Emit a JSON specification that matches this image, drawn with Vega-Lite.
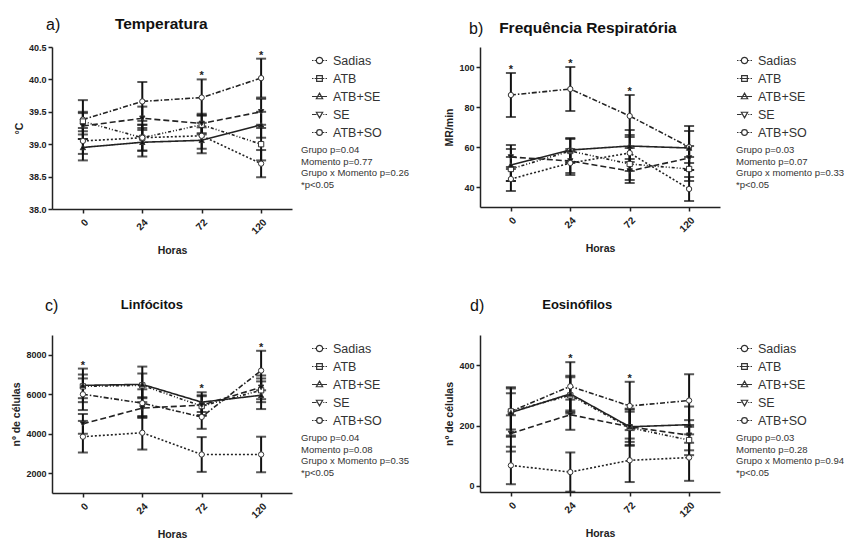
{
  "$schema": "https://vega.github.io/schema/vega-lite/v6.json",
  "background": "white",
  "padding": {"left": 11, "top": 17, "right": 0, "bottom": 0},
  "data": {"values": [
    {"painel":"a","grupo":"Sadias","hora":"0","media":39.38,"ep":0.30,"sig":0},
    {"painel":"a","grupo":"Sadias","hora":"24","media":39.66,"ep":0.30,"sig":0},
    {"painel":"a","grupo":"Sadias","hora":"72","media":39.72,"ep":0.28,"sig":1},
    {"painel":"a","grupo":"Sadias","hora":"120","media":40.02,"ep":0.30,"sig":1},
    {"painel":"a","grupo":"ATB","hora":"0","media":39.35,"ep":0.15,"sig":0},
    {"painel":"a","grupo":"ATB","hora":"24","media":39.10,"ep":0.20,"sig":0},
    {"painel":"a","grupo":"ATB","hora":"72","media":39.30,"ep":0.15,"sig":0},
    {"painel":"a","grupo":"ATB","hora":"120","media":39.00,"ep":0.25,"sig":0},
    {"painel":"a","grupo":"ATB+SE","hora":"0","media":38.95,"ep":0.20,"sig":0},
    {"painel":"a","grupo":"ATB+SE","hora":"24","media":39.03,"ep":0.22,"sig":0},
    {"painel":"a","grupo":"ATB+SE","hora":"72","media":39.06,"ep":0.20,"sig":0},
    {"painel":"a","grupo":"ATB+SE","hora":"120","media":39.30,"ep":0.20,"sig":0},
    {"painel":"a","grupo":"SE","hora":"0","media":39.28,"ep":0.20,"sig":0},
    {"painel":"a","grupo":"SE","hora":"24","media":39.40,"ep":0.18,"sig":0},
    {"painel":"a","grupo":"SE","hora":"72","media":39.32,"ep":0.15,"sig":0},
    {"painel":"a","grupo":"SE","hora":"120","media":39.50,"ep":0.20,"sig":0},
    {"painel":"a","grupo":"ATB+SO","hora":"0","media":39.05,"ep":0.20,"sig":0},
    {"painel":"a","grupo":"ATB+SO","hora":"24","media":39.10,"ep":0.20,"sig":0},
    {"painel":"a","grupo":"ATB+SO","hora":"72","media":39.13,"ep":0.20,"sig":0},
    {"painel":"a","grupo":"ATB+SO","hora":"120","media":38.70,"ep":0.21,"sig":0},

    {"painel":"b","grupo":"Sadias","hora":"0","media":86,"ep":11,"sig":1},
    {"painel":"b","grupo":"Sadias","hora":"24","media":89,"ep":11,"sig":1},
    {"painel":"b","grupo":"Sadias","hora":"72","media":75.5,"ep":10.5,"sig":1},
    {"painel":"b","grupo":"Sadias","hora":"120","media":60,"ep":8,"sig":0},
    {"painel":"b","grupo":"ATB","hora":"0","media":49,"ep":6,"sig":0},
    {"painel":"b","grupo":"ATB","hora":"24","media":58,"ep":6,"sig":0},
    {"painel":"b","grupo":"ATB","hora":"72","media":51.5,"ep":8,"sig":0},
    {"painel":"b","grupo":"ATB","hora":"120","media":49,"ep":6,"sig":0},
    {"painel":"b","grupo":"ATB+SE","hora":"0","media":51,"ep":8,"sig":0},
    {"painel":"b","grupo":"ATB+SE","hora":"24","media":58.5,"ep":6,"sig":0},
    {"painel":"b","grupo":"ATB+SE","hora":"72","media":60.5,"ep":8,"sig":0},
    {"painel":"b","grupo":"ATB+SE","hora":"120","media":59.5,"ep":11,"sig":0},
    {"painel":"b","grupo":"SE","hora":"0","media":55,"ep":6,"sig":0},
    {"painel":"b","grupo":"SE","hora":"24","media":53,"ep":6,"sig":0},
    {"painel":"b","grupo":"SE","hora":"72","media":48,"ep":6,"sig":0},
    {"painel":"b","grupo":"SE","hora":"120","media":54.5,"ep":6,"sig":0},
    {"painel":"b","grupo":"ATB+SO","hora":"0","media":44,"ep":6,"sig":0},
    {"painel":"b","grupo":"ATB+SO","hora":"24","media":52,"ep":6,"sig":0},
    {"painel":"b","grupo":"ATB+SO","hora":"72","media":57,"ep":9,"sig":0},
    {"painel":"b","grupo":"ATB+SO","hora":"120","media":39,"ep":6,"sig":0},

    {"painel":"c","grupo":"Sadias","hora":"0","media":6000,"ep":800,"sig":1},
    {"painel":"c","grupo":"Sadias","hora":"24","media":5550,"ep":700,"sig":0},
    {"painel":"c","grupo":"Sadias","hora":"72","media":4850,"ep":600,"sig":1},
    {"painel":"c","grupo":"Sadias","hora":"120","media":7200,"ep":1000,"sig":1},
    {"painel":"c","grupo":"ATB","hora":"0","media":6400,"ep":600,"sig":0},
    {"painel":"c","grupo":"ATB","hora":"24","media":6450,"ep":600,"sig":0},
    {"painel":"c","grupo":"ATB","hora":"72","media":5400,"ep":500,"sig":0},
    {"painel":"c","grupo":"ATB","hora":"120","media":6200,"ep":600,"sig":0},
    {"painel":"c","grupo":"ATB+SE","hora":"0","media":6450,"ep":850,"sig":0},
    {"painel":"c","grupo":"ATB+SE","hora":"24","media":6500,"ep":900,"sig":0},
    {"painel":"c","grupo":"ATB+SE","hora":"72","media":5600,"ep":500,"sig":0},
    {"painel":"c","grupo":"ATB+SE","hora":"120","media":5950,"ep":700,"sig":0},
    {"painel":"c","grupo":"SE","hora":"0","media":4500,"ep":500,"sig":0},
    {"painel":"c","grupo":"SE","hora":"24","media":5300,"ep":500,"sig":0},
    {"painel":"c","grupo":"SE","hora":"72","media":5450,"ep":500,"sig":0},
    {"painel":"c","grupo":"SE","hora":"120","media":6350,"ep":600,"sig":0},
    {"painel":"c","grupo":"ATB+SO","hora":"0","media":3850,"ep":800,"sig":0},
    {"painel":"c","grupo":"ATB+SO","hora":"24","media":4050,"ep":850,"sig":0},
    {"painel":"c","grupo":"ATB+SO","hora":"72","media":2950,"ep":880,"sig":0},
    {"painel":"c","grupo":"ATB+SO","hora":"120","media":2950,"ep":900,"sig":0},

    {"painel":"d","grupo":"Sadias","hora":"0","media":247,"ep":80,"sig":0},
    {"painel":"d","grupo":"Sadias","hora":"24","media":330,"ep":80,"sig":1},
    {"painel":"d","grupo":"Sadias","hora":"72","media":265,"ep":80,"sig":1},
    {"painel":"d","grupo":"Sadias","hora":"120","media":283,"ep":87,"sig":0},
    {"painel":"d","grupo":"ATB","hora":"0","media":247,"ep":60,"sig":0},
    {"painel":"d","grupo":"ATB","hora":"24","media":300,"ep":60,"sig":0},
    {"painel":"d","grupo":"ATB","hora":"72","media":193,"ep":60,"sig":0},
    {"painel":"d","grupo":"ATB","hora":"120","media":152,"ep":50,"sig":0},
    {"painel":"d","grupo":"ATB+SE","hora":"0","media":243,"ep":80,"sig":0},
    {"painel":"d","grupo":"ATB+SE","hora":"24","media":305,"ep":60,"sig":0},
    {"painel":"d","grupo":"ATB+SE","hora":"72","media":196,"ep":50,"sig":0},
    {"painel":"d","grupo":"ATB+SE","hora":"120","media":203,"ep":60,"sig":0},
    {"painel":"d","grupo":"SE","hora":"0","media":174,"ep":60,"sig":0},
    {"painel":"d","grupo":"SE","hora":"24","media":236,"ep":50,"sig":0},
    {"painel":"d","grupo":"SE","hora":"72","media":196,"ep":60,"sig":0},
    {"painel":"d","grupo":"SE","hora":"120","media":168,"ep":50,"sig":0},
    {"painel":"d","grupo":"ATB+SO","hora":"0","media":68,"ep":62,"sig":0},
    {"painel":"d","grupo":"ATB+SO","hora":"24","media":46,"ep":65,"sig":0},
    {"painel":"d","grupo":"ATB+SO","hora":"72","media":85,"ep":72,"sig":0},
    {"painel":"d","grupo":"ATB+SO","hora":"120","media":94,"ep":77,"sig":0}
  ]},
  "columns": 2,
  "spacing": {"row": 41, "column": 30},
  "resolve": {
    "scale": {"x": "independent", "y": "independent", "shape": "independent", "strokeDash": "independent", "fill": "independent"},
    "axis": {"x": "independent", "y": "independent"},
    "legend": {"shape": "independent"}
  },
  "concat": [
    {
      "width": 240, "height": 162,
      "title": {"text": "a)", "subtitle": "\u200b\u00a0\u00a0\u00a0\u00a0\u00a0\u00a0\u00a0\u00a0\u00a0\u00a0\u00a0\u00a0\u00a0\u00a0\u00a0\u00a0Temperatura", "dx": -6, "subtitleFontSize": 15.5, "subtitlePadding": -16},
      "transform": [{"filter": "datum.painel == 'a'"}],
      "encoding": {
        "x": {"field": "hora", "type": "ordinal", "sort": ["0","24","72","120"], "scale": {"type": "point", "padding": 0.52}, "axis": {"title": "Horas", "labelAngle": -45}},
        "y": {"field": "media", "type": "quantitative", "scale": {"domain": [38, 40.5], "nice": false, "zero": false}, "axis": {"title": "°C", "values": [38, 38.5, 39, 39.5, 40, 40.5], "format": ".1f"}}
      },
      "layer": [
        {"mark": {"type": "errorbar", "ticks": true, "size": 10, "thickness": 2, "color": "#111"}, "encoding": {"yError": {"field": "ep"}}},
        {"mark": {"type": "line", "color": "#222", "strokeWidth": 1.6}, "encoding": {"strokeDash": {"field": "grupo", "scale": {"domain": ["Sadias","ATB","ATB+SE","SE","ATB+SO"], "range": [[5,2,1.5,2],[3,2,1,2,1,2],[1,0],[6,3],[2,2]]}, "legend": null}}},
        {"mark": {"type": "point", "filled": true, "stroke": "#333", "strokeWidth": 1, "size": 28, "opacity": 1}, "encoding": {"shape": {"field": "grupo", "scale": {"domain": ["Sadias","ATB","ATB+SE","SE","ATB+SO"], "range": ["circle","square","triangle-up","triangle-down","circle"]}, "legend": null}, "fill": {"field": "grupo", "scale": {"domain": ["Sadias","ATB","ATB+SE","SE","ATB+SO"], "range": ["white","white","#111","#111","white"]}, "legend": null}}},
        {"mark": {"type": "point", "filled": false, "color": "#333", "strokeWidth": 1.2, "opacity": 0}, "encoding": {"shape": {"field": "grupo", "scale": {"domain": ["Sadias","ATB","ATB+SE","SE","ATB+SO"], "range": [
          "M-1,0H-0.8M-0.65,0H-0.42M0.42,0H0.65M0.8,0H1M0.42,0A0.42,0.42,0,1,1,-0.42,0A0.42,0.42,0,1,1,0.42,0",
          "M-1,0H-0.8M-0.65,0H0.65M0.8,0H1M-0.38,-0.38H0.38V0.38H-0.38Z",
          "M-1,0H1M0,-0.45L0.42,0.3H-0.42Z",
          "M-1,0H-0.4M0.5,0H0.65M0.8,0H1M0,0.45L0.42,-0.3H-0.42Z",
          "M-1,0H-0.8M-0.65,0H-0.38M0.38,0H0.65M0.8,0H1M0.38,0A0.38,0.38,0,1,1,-0.38,0A0.38,0.38,0,1,1,0.38,0"]},
          "legend": {"title": ["Grupo p=0.04", "Momento p=0.77", "Grupo x Momento p=0.26", "*p<0.05"]}}}},
        {"transform": [{"calculate": "datum.media + datum.ep", "as": "hi"}, {"joinaggregate": [{"op": "max", "field": "hi", "as": "topo"}], "groupby": ["hora"]}, {"filter": "datum.sig == 1"}],
         "mark": {"type": "text", "text": "*", "fontSize": 11, "fontWeight": "bold", "baseline": "middle", "dy": -3, "color": "#222"},
         "encoding": {"y": {"field": "topo", "type": "quantitative", "title": "°C"}}}
      ],
      "resolve": {"scale": {"shape": "independent"}}
    },
    {
      "width": 240, "height": 160,
      "title": {"text": "b)", "subtitle": "\u200b\u00a0\u00a0\u00a0\u00a0\u00a0\u00a0\u00a0Frequência Respiratória", "dx": -11, "subtitleFontSize": 15.5, "subtitlePadding": -16},
      "transform": [{"filter": "datum.painel == 'b'"}],
      "encoding": {
        "x": {"field": "hora", "type": "ordinal", "sort": ["0","24","72","120"], "scale": {"type": "point", "padding": 0.52}, "axis": {"title": "Horas", "labelAngle": -45}},
        "y": {"field": "media", "type": "quantitative", "scale": {"domain": [30, 110], "nice": false, "zero": false}, "axis": {"title": "MR/min", "values": [40, 60, 80, 100]}}
      },
      "layer": [
        {"mark": {"type": "errorbar", "ticks": true, "size": 10, "thickness": 2, "color": "#111"}, "encoding": {"yError": {"field": "ep"}}},
        {"mark": {"type": "line", "color": "#222", "strokeWidth": 1.6}, "encoding": {"strokeDash": {"field": "grupo", "scale": {"domain": ["Sadias","ATB","ATB+SE","SE","ATB+SO"], "range": [[5,2,1.5,2],[3,2,1,2,1,2],[1,0],[6,3],[2,2]]}, "legend": null}}},
        {"mark": {"type": "point", "filled": true, "stroke": "#333", "strokeWidth": 1, "size": 28, "opacity": 1}, "encoding": {"shape": {"field": "grupo", "scale": {"domain": ["Sadias","ATB","ATB+SE","SE","ATB+SO"], "range": ["circle","square","triangle-up","triangle-down","circle"]}, "legend": null}, "fill": {"field": "grupo", "scale": {"domain": ["Sadias","ATB","ATB+SE","SE","ATB+SO"], "range": ["white","white","#111","#111","white"]}, "legend": null}}},
        {"mark": {"type": "point", "filled": false, "color": "#333", "strokeWidth": 1.2, "opacity": 0}, "encoding": {"shape": {"field": "grupo", "scale": {"domain": ["Sadias","ATB","ATB+SE","SE","ATB+SO"], "range": [
          "M-1,0H-0.8M-0.65,0H-0.42M0.42,0H0.65M0.8,0H1M0.42,0A0.42,0.42,0,1,1,-0.42,0A0.42,0.42,0,1,1,0.42,0",
          "M-1,0H-0.8M-0.65,0H0.65M0.8,0H1M-0.38,-0.38H0.38V0.38H-0.38Z",
          "M-1,0H1M0,-0.45L0.42,0.3H-0.42Z",
          "M-1,0H-0.4M0.5,0H0.65M0.8,0H1M0,0.45L0.42,-0.3H-0.42Z",
          "M-1,0H-0.8M-0.65,0H-0.38M0.38,0H0.65M0.8,0H1M0.38,0A0.38,0.38,0,1,1,-0.38,0A0.38,0.38,0,1,1,0.38,0"]},
          "legend": {"title": ["Grupo p=0.03", "Momento p=0.07", "Grupo x momento p=0.33", "*p<0.05"], "offset": 11, "symbolOffset": 0}}}},
        {"transform": [{"calculate": "datum.media + datum.ep", "as": "hi"}, {"joinaggregate": [{"op": "max", "field": "hi", "as": "topo"}], "groupby": ["hora"]}, {"filter": "datum.sig == 1"}],
         "mark": {"type": "text", "text": "*", "fontSize": 11, "fontWeight": "bold", "baseline": "middle", "dy": -3, "color": "#222"},
         "encoding": {"y": {"field": "topo", "type": "quantitative", "title": "MR/min"}}}
      ],
      "resolve": {"scale": {"shape": "independent"}}
    },
    {
      "width": 240, "height": 158,
      "title": {"text": "c)", "subtitle": "\u200b\u00a0\u00a0\u00a0\u00a0\u00a0\u00a0\u00a0\u00a0\u00a0\u00a0\u00a0\u00a0\u00a0\u00a0\u00a0\u00a0\u00a0\u00a0\u00a0\u00a0\u00a0Linfócitos", "dx": -7, "offset": 21, "subtitleFontSize": 13, "subtitlePadding": -15},
      "transform": [{"filter": "datum.painel == 'c'"}],
      "encoding": {
        "x": {"field": "hora", "type": "ordinal", "sort": ["0","24","72","120"], "scale": {"type": "point", "padding": 0.52}, "axis": {"title": "Horas", "labelAngle": -45}},
        "y": {"field": "media", "type": "quantitative", "scale": {"domain": [1000, 9000], "nice": false, "zero": false}, "axis": {"title": "nº de células", "values": [2000, 4000, 6000, 8000], "format": "d"}}
      },
      "layer": [
        {"mark": {"type": "errorbar", "ticks": true, "size": 10, "thickness": 2, "color": "#111"}, "encoding": {"yError": {"field": "ep"}}},
        {"mark": {"type": "line", "color": "#222", "strokeWidth": 1.6}, "encoding": {"strokeDash": {"field": "grupo", "scale": {"domain": ["Sadias","ATB","ATB+SE","SE","ATB+SO"], "range": [[5,2,1.5,2],[3,2,1,2,1,2],[1,0],[6,3],[2,2]]}, "legend": null}}},
        {"mark": {"type": "point", "filled": true, "stroke": "#333", "strokeWidth": 1, "size": 28, "opacity": 1}, "encoding": {"shape": {"field": "grupo", "scale": {"domain": ["Sadias","ATB","ATB+SE","SE","ATB+SO"], "range": ["circle","square","triangle-up","triangle-down","circle"]}, "legend": null}, "fill": {"field": "grupo", "scale": {"domain": ["Sadias","ATB","ATB+SE","SE","ATB+SO"], "range": ["white","white","#111","#111","white"]}, "legend": null}}},
        {"mark": {"type": "point", "filled": false, "color": "#333", "strokeWidth": 1.2, "opacity": 0}, "encoding": {"shape": {"field": "grupo", "scale": {"domain": ["Sadias","ATB","ATB+SE","SE","ATB+SO"], "range": [
          "M-1,0H-0.8M-0.65,0H-0.42M0.42,0H0.65M0.8,0H1M0.42,0A0.42,0.42,0,1,1,-0.42,0A0.42,0.42,0,1,1,0.42,0",
          "M-1,0H-0.8M-0.65,0H0.65M0.8,0H1M-0.38,-0.38H0.38V0.38H-0.38Z",
          "M-1,0H1M0,-0.45L0.42,0.3H-0.42Z",
          "M-1,0H-0.4M0.5,0H0.65M0.8,0H1M0,0.45L0.42,-0.3H-0.42Z",
          "M-1,0H-0.8M-0.65,0H-0.38M0.38,0H0.65M0.8,0H1M0.38,0A0.38,0.38,0,1,1,-0.38,0A0.38,0.38,0,1,1,0.38,0"]},
          "legend": {"title": ["Grupo p=0.04", "Momento p=0.08", "Grupo x Momento p=0.35", "*p<0.05"]}}}},
        {"transform": [{"calculate": "datum.media + datum.ep", "as": "hi"}, {"joinaggregate": [{"op": "max", "field": "hi", "as": "topo"}], "groupby": ["hora"]}, {"filter": "datum.sig == 1"}],
         "mark": {"type": "text", "text": "*", "fontSize": 11, "fontWeight": "bold", "baseline": "middle", "dy": -3, "color": "#222"},
         "encoding": {"y": {"field": "topo", "type": "quantitative", "title": "nº de células"}}}
      ],
      "resolve": {"scale": {"shape": "independent"}}
    },
    {
      "width": 240, "height": 157,
      "title": {"text": "d)", "subtitle": "\u200b\u00a0\u00a0\u00a0\u00a0\u00a0\u00a0\u00a0\u00a0\u00a0\u00a0\u00a0\u00a0\u00a0\u00a0\u00a0\u00a0\u00a0\u00a0\u00a0\u00a0Eosinófilos", "dx": -10, "offset": 21, "subtitleFontSize": 13, "subtitlePadding": -15},
      "transform": [{"filter": "datum.painel == 'd'"}],
      "encoding": {
        "x": {"field": "hora", "type": "ordinal", "sort": ["0","24","72","120"], "scale": {"type": "point", "padding": 0.52}, "axis": {"title": "Horas", "labelAngle": -45}},
        "y": {"field": "media", "type": "quantitative", "scale": {"domain": [-20, 500], "nice": false, "zero": false}, "axis": {"title": "nº de células", "values": [0, 200, 400]}}
      },
      "layer": [
        {"mark": {"type": "errorbar", "ticks": true, "size": 10, "thickness": 2, "color": "#111"}, "encoding": {"yError": {"field": "ep"}}},
        {"mark": {"type": "line", "color": "#222", "strokeWidth": 1.6}, "encoding": {"strokeDash": {"field": "grupo", "scale": {"domain": ["Sadias","ATB","ATB+SE","SE","ATB+SO"], "range": [[5,2,1.5,2],[3,2,1,2,1,2],[1,0],[6,3],[2,2]]}, "legend": null}}},
        {"mark": {"type": "point", "filled": true, "stroke": "#333", "strokeWidth": 1, "size": 28, "opacity": 1}, "encoding": {"shape": {"field": "grupo", "scale": {"domain": ["Sadias","ATB","ATB+SE","SE","ATB+SO"], "range": ["circle","square","triangle-up","triangle-down","circle"]}, "legend": null}, "fill": {"field": "grupo", "scale": {"domain": ["Sadias","ATB","ATB+SE","SE","ATB+SO"], "range": ["white","white","#111","#111","white"]}, "legend": null}}},
        {"mark": {"type": "point", "filled": false, "color": "#333", "strokeWidth": 1.2, "opacity": 0}, "encoding": {"shape": {"field": "grupo", "scale": {"domain": ["Sadias","ATB","ATB+SE","SE","ATB+SO"], "range": [
          "M-1,0H-0.8M-0.65,0H-0.42M0.42,0H0.65M0.8,0H1M0.42,0A0.42,0.42,0,1,1,-0.42,0A0.42,0.42,0,1,1,0.42,0",
          "M-1,0H-0.8M-0.65,0H0.65M0.8,0H1M-0.38,-0.38H0.38V0.38H-0.38Z",
          "M-1,0H1M0,-0.45L0.42,0.3H-0.42Z",
          "M-1,0H-0.4M0.5,0H0.65M0.8,0H1M0,0.45L0.42,-0.3H-0.42Z",
          "M-1,0H-0.8M-0.65,0H-0.38M0.38,0H0.65M0.8,0H1M0.38,0A0.38,0.38,0,1,1,-0.38,0A0.38,0.38,0,1,1,0.38,0"]},
          "legend": {"title": ["Grupo p=0.03", "Momento p=0.28", "Grupo x Momento p=0.94", "*p<0.05"], "offset": 11, "symbolOffset": 0}}}},
        {"transform": [{"calculate": "datum.media + datum.ep", "as": "hi"}, {"joinaggregate": [{"op": "max", "field": "hi", "as": "topo"}], "groupby": ["hora"]}, {"filter": "datum.sig == 1"}],
         "mark": {"type": "text", "text": "*", "fontSize": 11, "fontWeight": "bold", "baseline": "middle", "dy": -3, "color": "#222"},
         "encoding": {"y": {"field": "topo", "type": "quantitative", "title": "nº de células"}}}
      ],
      "resolve": {"scale": {"shape": "independent"}}
    }
  ],
  "config": {
    "font": "Liberation Sans",
    "view": {"stroke": null},
    "axis": {"grid": false, "domainColor": "#222", "domainWidth": 1.5, "tickColor": "#222", "tickWidth": 1.5, "tickSize": 4, "labelFont": "Liberation Sans", "labelFontSize": 10, "labelPadding": 4, "labelFontWeight": "bold", "labelColor": "#222", "titleFont": "Liberation Sans", "titleFontSize": 10.5, "titleFontWeight": "bold", "titleColor": "#222"},
    "axisX": {"titlePadding": 10},
    "axisY": {"labelFontSize": 9, "labelPadding": 2},
    "title": {"anchor": "start", "frame": "group", "font": "Liberation Sans", "fontSize": 16, "fontWeight": "normal", "color": "#111", "subtitleFont": "Liberation Sans", "subtitleFontSize": 14.5, "subtitleFontWeight": "bold", "subtitleColor": "#111", "subtitlePadding": -15, "offset": 10},
    "legend": {"orient": "right", "offset": 4, "padding": 5, "symbolOffset": 10, "symbolSize": 225, "symbolStrokeWidth": 1.2, "symbolOpacity": 1, "labelFont": "Liberation Sans", "labelFontSize": 12.5, "labelColor": "#333", "labelOffset": 5, "rowPadding": 3, "titleOrient": "bottom", "titleFont": "Liberation Sans", "titleFontSize": 9.5, "titleFontWeight": "normal", "titleColor": "#333", "titleLineHeight": 11.5, "titlePadding": 6, "titleAnchor": "start", "titleLimit": 300}
  }
}
